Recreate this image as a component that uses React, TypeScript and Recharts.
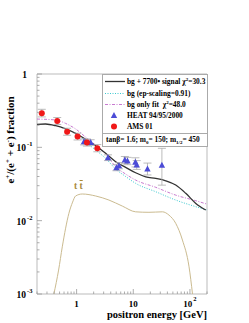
import {
  ComposedChart,
  Line,
  Scatter,
  ErrorBar,
  XAxis,
  YAxis,
  ReferenceArea,
} from 'recharts';

// curves (E in GeV, f = e+/(e+ + e-))
const sigE = [0.2, 0.283, 0.426, 0.64, 0.96, 1.44, 2.17, 3.25, 4.89, 7.34, 11.0, 16.6, 24.9, 37.4, 56.1, 84.3, 127, 190];
const sigF = [0.206, 0.208, 0.197, 0.178, 0.155, 0.129, 0.105, 0.0828, 0.0636, 0.0534, 0.045, 0.0397, 0.0377, 0.035, 0.0306, 0.0236, 0.0172, 0.014];

const epE = [1.08, 1.44, 2.17, 3.25, 4.89, 7.34, 11.0, 24.9, 56.1, 127, 200];
const epF = [0.15, 0.119, 0.0919, 0.0708, 0.0506, 0.04, 0.0323, 0.0248, 0.0191, 0.0155, 0.014];

const bgE = [0.2, 0.426, 0.64, 0.96, 1.44, 2.17, 3.25, 4.89, 7.34, 11.0, 24.9, 56.1, 127, 200];
const bgF = [0.243, 0.236, 0.212, 0.178, 0.138, 0.107, 0.0823, 0.0544, 0.0432, 0.0358, 0.0285, 0.0223, 0.0187, 0.0168];

const ttE = [0.397, 0.481, 0.559, 0.64, 0.731, 0.85, 0.96, 1.26, 2.17, 3.72, 6.42, 11.0, 18.9, 32.7, 42.7, 56.1, 73.7, 96.4, 111];
const ttF = [0.001, 0.00212, 0.0044, 0.0079, 0.0126, 0.0179, 0.0217, 0.0231, 0.0217, 0.0191, 0.0158, 0.0132, 0.013, 0.0132, 0.0119, 0.0092, 0.00544, 0.00235, 0.001];

// data points with error bars
const heatE = [1.35, 1.77, 3.58, 5.04, 5.6, 7.1, 7.9, 10.9, 11.5, 17.8, 32];
const heatF = [0.119, 0.116, 0.072, 0.0527, 0.056, 0.067, 0.065, 0.0624, 0.0574, 0.0506, 0.0567];
const heatLo = [0.108, 0.106, 0.066, 0.048, 0.051, 0.06, 0.058, 0.054, 0.05, 0.042, 0.0305];
const heatHi = [0.13, 0.127, 0.079, 0.058, 0.062, 0.075, 0.073, 0.072, 0.066, 0.061, 0.097];

const amsE = [0.243, 0.455, 0.68, 1.04, 1.52, 2.32];
const amsF = [0.291, 0.229, 0.163, 0.14, 0.116, 0.097];
const amsLo = [0.26, 0.205, 0.146, 0.126, 0.104, 0.087];
const amsHi = [0.33, 0.255, 0.182, 0.156, 0.13, 0.109];

const xTicks = [0.2, 0.3, 0.4, 0.5, 0.6, 0.7, 0.8, 0.9, 1, 2, 3, 4, 5, 6, 7, 8, 9, 10, 20, 30, 40, 50, 60, 70, 80, 90, 100, 200];
const yTicks = [0.001, 0.002, 0.003, 0.004, 0.005, 0.006, 0.007, 0.008, 0.009, 0.01, 0.02, 0.03, 0.04, 0.05, 0.06, 0.07, 0.08, 0.09, 0.1, 0.2, 0.3, 0.4, 0.5, 0.6, 0.7, 0.8, 0.9, 1];
const xLabels: Record<number, [string, string]> = { 1: ['1', ''], 10: ['10', ''], 100: ['10', '2'] };
const yLabels: Record<number, [string, string]> = { 1: ['1', ''], 0.1: ['10', '-1'], 0.01: ['10', '-2'], 0.001: ['10', '-3'] };

const curve = (xs: number[], ys: number[]) => xs.map((E, i) => ({ E, f: ys[i] }));
const points = (xs: number[], ys: number[], lo: number[], hi: number[]) =>
  xs.map((E, i) => ({ E, f: ys[i], err: [ys[i] - lo[i], hi[i] - ys[i]] }));

const FONT = '"Liberation Serif", "DejaVu Serif", serif';
const TICK = '#999';

const XTick = ({ x, y, payload }: any) => {
  const lab = xLabels[payload.value];
  return (
    <g>
      <line x1={x} x2={x} y1={y} y2={y - (lab ? 5 : 2.5)} stroke={TICK} strokeWidth={0.8} />
      {lab && (
        <text x={x} y={y + 13} textAnchor="middle" fontFamily={FONT} fontWeight="bold" fontSize={9} fill="#000">
          {lab[0]}
          {lab[1] && <tspan dx={1} dy={-6} fontSize={6.5}>{lab[1]}</tspan>}
        </text>
      )}
    </g>
  );
};

const YTick = ({ x, y, payload }: any) => {
  const lab = yLabels[payload.value];
  return (
    <g>
      <line x1={x} x2={x + (lab ? 5 : 2.5)} y1={y} y2={y} stroke={TICK} strokeWidth={0.8} />
      {lab && !lab[1] && (
        <text x={x - 10} y={y + 4} textAnchor="end" fontFamily={FONT} fontWeight="bold" fontSize={9.5} fill="#000">
          {lab[0]}
        </text>
      )}
      {lab && lab[1] && (
        <g fontFamily={FONT} fontWeight="bold" fill="#000">
          <text x={x - 11} y={y + 4} textAnchor="end" fontSize={9.5}>{lab[0]}</text>
          <text x={x - 10} y={y - 1} fontSize={6.5}>{lab[1]}</text>
        </g>
      )}
    </g>
  );
};

const Triangle = ({ cx, cy }: any) => (
  <polygon points={`${cx},${cy - 3.6} ${cx - 3.2},${cy + 2.4} ${cx + 3.2},${cy + 2.4}`} fill="#4b4bd6" />
);
const Dot = ({ cx, cy }: any) => <circle cx={cx} cy={cy} r={3} fill="#f01818" />;

const legendRow = (top: number, sym: JSX.Element, text: JSX.Element) => (
  <div style={{ position: 'absolute', left: 0, top, height: 11, width: 200, display: 'flex', alignItems: 'center' }}>
    <svg width={24} height={11} style={{ flex: 'none' }}>{sym}</svg>
    <span style={{ whiteSpace: 'nowrap' }}>{text}</span>
  </div>
);

export default function App() {
  return (
    <div style={{ position: 'fixed', left: 0, top: 0, width: 249, height: 323, background: '#fff', overflow: 'hidden' }}>
      <ComposedChart width={249} height={323} margin={{ top: 74, right: 42, bottom: 28, left: 36 }}>
        <XAxis
          dataKey="E"
          type="number"
          scale="log"
          domain={[0.2, 200]}
          allowDataOverflow
          ticks={xTicks}
          interval={0}
          height={1}
          tickSize={0}
          tickMargin={0}
          axisLine={false}
          tickLine={false}
          tick={<XTick />}
        />
        <YAxis
          dataKey="f"
          type="number"
          scale="log"
          domain={[0.001, 1]}
          allowDataOverflow
          ticks={yTicks}
          interval={0}
          width={1}
          tickSize={0}
          tickMargin={0}
          axisLine={false}
          tickLine={false}
          tick={<YTick />}
        />
        <ReferenceArea x1={0.2} x2={200} y1={0.001} y2={1} fill="none" stroke="#aaa" strokeWidth={0.8} ifOverflow="visible" />
        <Line data={curve(ttE, ttF)} dataKey="f" type="monotone" stroke="#cbbb90" strokeWidth={1} dot={false} activeDot={false} isAnimationActive={false} />
        <Line data={curve(epE, epF)} dataKey="f" type="monotone" stroke="#3cc8d0" strokeWidth={1} strokeDasharray="1 1.5" dot={false} activeDot={false} isAnimationActive={false} />
        <Line data={curve(bgE, bgF)} dataKey="f" type="monotone" stroke="#c87ad0" strokeWidth={1} strokeDasharray="3 1.5 1 1.5" dot={false} activeDot={false} isAnimationActive={false} />
        <Line data={curve(sigE, sigF)} dataKey="f" type="monotone" stroke="#333" strokeWidth={1.3} dot={false} activeDot={false} isAnimationActive={false} />
        <Scatter data={points(heatE, heatF, heatLo, heatHi)} dataKey="f" shape={<Triangle />} isAnimationActive={false}>
          <ErrorBar dataKey="err" direction="y" width={4} stroke="#aaa" strokeWidth={0.8} />
        </Scatter>
        <Scatter data={points(amsE, amsF, amsLo, amsHi)} dataKey="f" shape={<Dot />} isAnimationActive={false}>
          <ErrorBar dataKey="err" direction="y" width={4} stroke="#aaa" strokeWidth={0.8} />
        </Scatter>
      </ComposedChart>

      {/* legend box */}
      <div
        style={{
          position: 'absolute',
          left: 102,
          top: 74,
          width: 104,
          height: 71,
          border: '0.8px solid #aaa',
          background: '#fff',
          overflow: 'hidden',
          fontFamily: FONT,
          fontWeight: 'bold',
          fontSize: 7.4,
          color: '#000',
        }}
      >
        {legendRow(1, <line x1={2} x2={22} y1={5.5} y2={5.5} stroke="#333" strokeWidth={1.3} />, <>bg + 7700• signal χ<sup style={{ fontSize: 5 }}>2</sup>=30.3</>)}
        {legendRow(13, <line x1={2} x2={22} y1={5.5} y2={5.5} stroke="#3cc8d0" strokeWidth={1} strokeDasharray="1 1.5" />, <>bg (ep-scaling=0.91)</>)}
        {legendRow(24, <line x1={2} x2={22} y1={5.5} y2={5.5} stroke="#c87ad0" strokeWidth={1} strokeDasharray="3 1.5 1 1.5" />, <>bg only fit&nbsp; χ<sup style={{ fontSize: 5 }}>2</sup>=48.0</>)}
        {legendRow(35, <polygon points="11,2 7.8,8 14.2,8" fill="#4b4bd6" />, <>HEAT 94/95/2000</>)}
        {legendRow(46, <circle cx={11} cy={5.5} r={3} fill="#f01818" />, <>AMS 01</>)}
        <div style={{ position: 'absolute', left: 0, top: 58, width: '100%', borderTop: '0.8px solid #aaa' }} />
        <div style={{ position: 'absolute', left: 3, top: 60, whiteSpace: 'nowrap' }}>
          tanβ= 1.6; m<sub style={{ fontSize: 5 }}>0</sub>= 150; m<sub style={{ fontSize: 5 }}>1/2</sub>= 450
        </div>
      </div>

      {/* tt-bar label */}
      <div style={{ position: 'absolute', left: 74, top: 181, fontFamily: FONT, fontWeight: 'bold', fontSize: 9.5, color: '#a8893c', whiteSpace: 'nowrap' }}>
        t <span style={{ textDecoration: 'overline' }}>t</span>
      </div>

      {/* axis titles */}
      <div style={{ position: 'absolute', right: 42, top: 309, fontFamily: FONT, fontWeight: 'bold', fontSize: 10.5, lineHeight: '12px', whiteSpace: 'nowrap' }}>
        positron energy [GeV]
      </div>
      <div
        style={{
          position: 'absolute',
          left: 10,
          top: 140,
          transform: 'translate(-50%, -50%) rotate(-90deg)',
          fontFamily: FONT,
          fontWeight: 'bold',
          fontSize: 11,
          whiteSpace: 'nowrap',
        }}
      >
        e<sup style={{ fontSize: 7 }}>+</sup>/(e<sup style={{ fontSize: 7 }}>+</sup> + e<sup style={{ fontSize: 7 }}>-</sup>) fraction
      </div>
    </div>
  );
}
